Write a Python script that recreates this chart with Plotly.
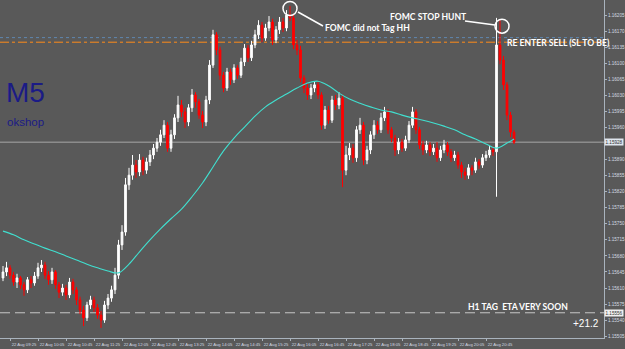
import plotly.graph_objects as go

# ---- data (EURUSD-like, M5 bars, 22 Aug 09:15 .. 21:25) ----
opens = [1.15632, 1.15645, 1.15654, 1.15638, 1.15623, 1.15632, 1.15617, 1.15606, 1.15628, 1.15621,
         1.15636, 1.15654, 1.15660, 1.15638, 1.15628, 1.15645, 1.15617, 1.15601, 1.15610, 1.15595,
         1.15623, 1.15606, 1.15584, 1.15562, 1.15545, 1.15573, 1.15584, 1.15567, 1.15551, 1.15540,
         1.15573, 1.15588, 1.15606, 1.15638, 1.15704, 1.15732, 1.15835, 1.15856, 1.15878, 1.15863,
         1.15889, 1.15867, 1.15885, 1.15900, 1.15915, 1.15928, 1.15944, 1.15965, 1.15915, 1.15944,
         1.15981, 1.16009, 1.15994, 1.15972, 1.16003, 1.16031, 1.16016, 1.15987, 1.15972, 1.16020,
         1.16096, 1.16162, 1.16129, 1.16074, 1.16046, 1.16081, 1.16064, 1.16090, 1.16074, 1.16103,
         1.16133, 1.16112, 1.16140, 1.16162, 1.16183, 1.16155, 1.16177, 1.16190, 1.16151, 1.16173,
         1.16190, 1.16177, 1.16205, 1.16199, 1.16140, 1.16129, 1.16068, 1.16046, 1.16031, 1.16046,
         1.16053, 1.16031, 1.15965, 1.15998, 1.15976, 1.16020, 1.16009, 1.16024, 1.15867, 1.15900,
         1.15915, 1.15894, 1.15955, 1.15965, 1.15889, 1.15911, 1.15944, 1.15965, 1.15955, 1.15981,
         1.15994, 1.15955, 1.15937, 1.15911, 1.15928, 1.15915, 1.15933, 1.15965, 1.15994, 1.15955,
         1.15922, 1.15911, 1.15922, 1.15907, 1.15915, 1.15894, 1.15911, 1.15922, 1.15907, 1.15894,
         1.15900, 1.15878, 1.15863, 1.15856, 1.15872, 1.15867, 1.15885, 1.15878, 1.15894, 1.15900,
         1.15911, 1.15907, 1.16140, 1.16107, 1.16053, 1.15987, 1.15950]

highs = [1.15658, 1.15667, 1.15660, 1.15645, 1.15641, 1.15636, 1.15623, 1.15634, 1.15636, 1.15645,
         1.15665, 1.15671, 1.15667, 1.15647, 1.15654, 1.15649, 1.15623, 1.15619, 1.15617, 1.15632,
         1.15630, 1.15612, 1.15591, 1.15571, 1.15580, 1.15593, 1.15591, 1.15575, 1.15560, 1.15582,
         1.15597, 1.15615, 1.15654, 1.15715, 1.15747, 1.15850, 1.15872, 1.15900, 1.15889, 1.15902,
         1.15896, 1.15894, 1.15911, 1.15924, 1.15937, 1.15955, 1.15976, 1.15972, 1.15955, 1.15989,
         1.16029, 1.16020, 1.16003, 1.16011, 1.16044, 1.16037, 1.16022, 1.15996, 1.16029, 1.16107,
         1.16173, 1.16168, 1.16136, 1.16081, 1.16090, 1.16088, 1.16098, 1.16096, 1.16112, 1.16142,
         1.16140, 1.16149, 1.16173, 1.16194, 1.16190, 1.16186, 1.16203, 1.16197, 1.16181, 1.16201,
         1.16199, 1.16216, 1.16225, 1.16207, 1.16151, 1.16138, 1.16074, 1.16055, 1.16055, 1.16061,
         1.16059, 1.16037, 1.16007, 1.16007, 1.16029, 1.16031, 1.16037, 1.16031, 1.15920, 1.15926,
         1.15924, 1.15963, 1.15981, 1.15972, 1.15920, 1.15952, 1.15976, 1.15974, 1.15992, 1.16005,
         1.16000, 1.15961, 1.15944, 1.15937, 1.15935, 1.15942, 1.15974, 1.16005, 1.16000, 1.15961,
         1.15931, 1.15931, 1.15928, 1.15924, 1.15928, 1.15920, 1.15933, 1.15928, 1.15913, 1.15909,
         1.15907, 1.15885, 1.15872, 1.15880, 1.15878, 1.15894, 1.15891, 1.15902, 1.15909, 1.15920,
         1.15918, 1.16199, 1.16194, 1.16116, 1.16059, 1.15994, 1.15955]

lows = [1.15625, 1.15636, 1.15630, 1.15615, 1.15610, 1.15608, 1.15593, 1.15599, 1.15610, 1.15615,
        1.15630, 1.15645, 1.15630, 1.15617, 1.15619, 1.15608, 1.15588, 1.15593, 1.15584, 1.15588,
        1.15597, 1.15573, 1.15553, 1.15527, 1.15538, 1.15564, 1.15558, 1.15543, 1.15523, 1.15534,
        1.15564, 1.15580, 1.15597, 1.15630, 1.15693, 1.15724, 1.15824, 1.15846, 1.15850, 1.15854,
        1.15856, 1.15859, 1.15876, 1.15891, 1.15907, 1.15920, 1.15937, 1.15907, 1.15907, 1.15935,
        1.15972, 1.15983, 1.15959, 1.15963, 1.15994, 1.16003, 1.15979, 1.15959, 1.15963, 1.16011,
        1.16090, 1.16118, 1.16064, 1.16037, 1.16040, 1.16053, 1.16057, 1.16066, 1.16068, 1.16094,
        1.16103, 1.16105, 1.16133, 1.16153, 1.16146, 1.16149, 1.16170, 1.16140, 1.16144, 1.16164,
        1.16168, 1.16170, 1.16192, 1.16131, 1.16118, 1.16059, 1.16035, 1.16020, 1.16022, 1.16037,
        1.16022, 1.15955, 1.15957, 1.15968, 1.15970, 1.15998, 1.16000, 1.15830, 1.15856, 1.15889,
        1.15883, 1.15885, 1.15946, 1.15878, 1.15880, 1.15902, 1.15935, 1.15946, 1.15948, 1.15974,
        1.15946, 1.15928, 1.15898, 1.15902, 1.15907, 1.15909, 1.15926, 1.15959, 1.15946, 1.15913,
        1.15900, 1.15904, 1.15898, 1.15900, 1.15885, 1.15887, 1.15904, 1.15898, 1.15885, 1.15887,
        1.15870, 1.15850, 1.15846, 1.15848, 1.15856, 1.15861, 1.15870, 1.15872, 1.15887, 1.15894,
        1.15898, 1.15809, 1.16098, 1.16042, 1.15976, 1.15939, 1.15924]

closes = [1.15645, 1.15654, 1.15638, 1.15623, 1.15632, 1.15617, 1.15606, 1.15628, 1.15621, 1.15636,
          1.15654, 1.15660, 1.15638, 1.15628, 1.15645, 1.15617, 1.15601, 1.15610, 1.15595, 1.15623,
          1.15606, 1.15584, 1.15562, 1.15545, 1.15573, 1.15584, 1.15567, 1.15551, 1.15540, 1.15573,
          1.15588, 1.15606, 1.15638, 1.15704, 1.15732, 1.15835, 1.15856, 1.15878, 1.15863, 1.15889,
          1.15867, 1.15885, 1.15900, 1.15915, 1.15928, 1.15944, 1.15965, 1.15915, 1.15944, 1.15981,
          1.16009, 1.15994, 1.15972, 1.16003, 1.16031, 1.16016, 1.15987, 1.15972, 1.16020, 1.16096,
          1.16162, 1.16129, 1.16074, 1.16046, 1.16081, 1.16064, 1.16090, 1.16074, 1.16103, 1.16133,
          1.16112, 1.16140, 1.16162, 1.16183, 1.16155, 1.16177, 1.16190, 1.16151, 1.16173, 1.16190,
          1.16177, 1.16205, 1.16199, 1.16140, 1.16129, 1.16068, 1.16046, 1.16031, 1.16046, 1.16053,
          1.16031, 1.15965, 1.15998, 1.15976, 1.16020, 1.16009, 1.16024, 1.15867, 1.15900, 1.15915,
          1.15894, 1.15955, 1.15965, 1.15889, 1.15911, 1.15944, 1.15965, 1.15955, 1.15981, 1.15994,
          1.15955, 1.15937, 1.15911, 1.15928, 1.15915, 1.15933, 1.15965, 1.15994, 1.15955, 1.15922,
          1.15911, 1.15922, 1.15907, 1.15915, 1.15894, 1.15911, 1.15922, 1.15907, 1.15894, 1.15900,
          1.15878, 1.15863, 1.15856, 1.15872, 1.15867, 1.15885, 1.15878, 1.15894, 1.15900, 1.15911,
          1.15907, 1.16140, 1.16107, 1.16053, 1.15987, 1.15950, 1.15928]

# moving average (cyan line), read every 3rd bar
ma_bars = [0, 3, 6, 9, 12, 15, 18, 21, 24, 27, 30, 33, 36, 39, 42, 45, 48, 51, 54, 57,
           60, 63, 66, 69, 72, 75, 78, 81, 84, 87, 90, 93, 96, 99, 102, 105, 108, 111, 114, 117,
           120, 123, 126, 129, 132, 135, 138, 141, 144, 146]
ma_values = [1.15734, 1.15726, 1.15715, 1.15706, 1.15697, 1.15689, 1.15680, 1.15671, 1.15662, 1.15654,
             1.15647, 1.15643, 1.15662, 1.15689, 1.15715, 1.15739, 1.15761, 1.15782, 1.15809, 1.15839,
             1.15874, 1.15909, 1.15937, 1.15961, 1.15985, 1.16005, 1.16020, 1.16033, 1.16046, 1.16057,
             1.16061, 1.16051, 1.16035, 1.16022, 1.16013, 1.16005, 1.15998, 1.15994, 1.15987, 1.15981,
             1.15976, 1.15970, 1.15963, 1.15955, 1.15944, 1.15935, 1.15924, 1.15915, 1.15926, 1.15935]

# time axis labels (every 8 bars)
time_tick_bars = [2, 10, 18, 26, 34, 42, 50, 58, 66, 74, 82, 90, 98, 106, 114, 122, 130, 138]
time_tick_labels = ["22 Aug 09:25", "22 Aug 10:05", "22 Aug 10:45", "22 Aug 11:25", "22 Aug 12:05",
                    "22 Aug 12:45", "22 Aug 13:25", "22 Aug 14:05", "22 Aug 14:45", "22 Aug 15:25",
                    "22 Aug 16:05", "22 Aug 16:45", "22 Aug 17:25", "22 Aug 18:05", "22 Aug 18:45",
                    "22 Aug 19:25", "22 Aug 20:05", "22 Aug 20:45"]

price_ticks = [1.16205, 1.16170, 1.16135, 1.16100, 1.16065, 1.16030, 1.15995, 1.15960, 1.15925,
               1.15890, 1.15855, 1.15820, 1.15785, 1.15750, 1.15715, 1.15680, 1.15645, 1.15610,
               1.15575, 1.15540, 1.15505]

orange_level = 1.16146   # dash-dot level
blue_level = 1.16156     # dotted level
h1_level = 1.15556       # H1 target
fomc_high_bar = 82
stop_hunt_bar = 142

# ---- geometry helpers for annotations (plot area 604 x 338 px) ----
PW, PH = 604.0, 338.0
def px(x):
    return x / PW
def py(y):
    return 1 - y / PH

BG = "#595959"
AXC = "#a9b3bd"
TXT = "#d4dbe3"
NAVY = "#1b1b86"

bars = list(range(len(closes)))

# tick labels hidden behind the highlighted price boxes are not shown
boxed = [closes[-1], h1_level]
shown_ticks = [v for v in price_ticks if all(abs(v - b) > 0.00010 for b in boxed)]

fig = go.Figure()
fig.add_trace(go.Candlestick(
    x=bars, open=opens, high=highs, low=lows, close=closes,
    increasing=dict(line=dict(color="#ffffff", width=1), fillcolor="#ffffff"),
    decreasing=dict(line=dict(color="#ff0000", width=1), fillcolor="#ff0000"),
    whiskerwidth=0, showlegend=False, hoverinfo="skip"))
fig.add_trace(go.Scatter(
    x=ma_bars, y=ma_values, mode="lines",
    line=dict(color="#40e0d0", width=1.1, shape="spline"),
    showlegend=False, hoverinfo="skip"))

shapes = []
shapes.append(dict(type="line", xref="paper", x0=0, x1=1, yref="y", y0=blue_level, y1=blue_level,
                   line=dict(color="#5f86b0", width=1, dash="dot"), layer="below"))
shapes.append(dict(type="line", xref="paper", x0=0, x1=1, yref="y", y0=orange_level, y1=orange_level,
                   line=dict(color="#ff8c1a", width=1, dash="dashdot"), layer="below"))
shapes.append(dict(type="line", xref="paper", x0=0, x1=1, yref="y", y0=h1_level, y1=h1_level,
                   line=dict(color="#c8c8c8", width=1, dash="10px,5px"), layer="below"))
shapes.append(dict(type="line", xref="paper", x0=0, x1=1, yref="y", y0=closes[-1], y1=closes[-1],
                   line=dict(color="#a8a8a8", width=1), layer="below"))
# circles
shapes.append(dict(type="circle", xref="x", yref="y", xsizemode="pixel", ysizemode="pixel",
                   xanchor=fomc_high_bar, yanchor=highs[fomc_high_bar],
                   x0=-7, x1=7, y0=-9.5, y1=4.5, line=dict(color="#ffffff", width=1.5)))
shapes.append(dict(type="circle", xref="x", yref="y", xsizemode="pixel", ysizemode="pixel",
                   xanchor=stop_hunt_bar, yanchor=highs[stop_hunt_bar],
                   x0=-5, x1=9, y0=-13, y1=1, line=dict(color="#ffffff", width=1.5)))
# connector lines
shapes.append(dict(type="line", xref="paper", yref="paper", x0=px(298), y0=py(12), x1=px(323), y1=py(26),
                   line=dict(color="#ffffff", width=1.5)))
shapes.append(dict(type="line", xref="paper", yref="paper", x0=px(465), y0=py(21), x1=px(495), y1=py(25),
                   line=dict(color="#ffffff", width=1.5)))

BOLD = "Lato, 'Liberation Sans', Arial, sans-serif"
ann = []
def text(x, y, s, size, color="#ffffff", family=BOLD):
    ann.append(dict(xref="paper", yref="paper", x=px(x), y=py(y), text=s, showarrow=False,
                    xanchor="left", yanchor="middle", font=dict(size=size, color=color, family=family),
                    borderpad=0))

text(5, 93, "M5", 28, NAVY, "Liberation Sans, Arial")
text(6, 122, "okshop", 11.5, NAVY, "Liberation Sans, Arial")
text(324, 27.5, "<b>FOMC did not Tag HH</b>", 8.6)
text(389, 17.5, "<b>FOMC STOP HUNT</b>", 8.6)
text(506, 43, "<b>RE ENTER SELL (SL TO BE)</b>", 8.6)
text(467, 307, "<b>H1 TAG\u00a0 ETA VERY SOON</b>", 8.6)
text(572, 323, "+21.2", 10, "#ffffff", "Liberation Sans, Arial")

# highlighted price boxes on the axis
for lvl, bg in [(closes[-1], "#dfe6ee"), (h1_level, "#f0f0f0")]:
    ann.append(dict(xref="paper", yref="y", x=1.0, y=lvl, text=f"{lvl:.5f}", showarrow=False,
                    xanchor="left", yanchor="middle", bgcolor=bg, borderpad=0.5,
                    font=dict(size=4.6, color="#303030", family="Liberation Sans, Arial")))

fig.update_layout(
    width=625, height=349,
    margin=dict(l=0, r=21, t=0, b=11),
    paper_bgcolor=BG, plot_bgcolor=BG,
    shapes=shapes, annotations=ann,
    xaxis=dict(range=[-0.857, 171.71], rangeslider=dict(visible=False),
               tickvals=time_tick_bars, ticktext=time_tick_labels,
               tickfont=dict(size=4.2, color=TXT, family="Liberation Sans, Arial"),
               ticks="outside", ticklen=2, tickcolor=AXC, ticklabelshift=14,
               showline=True, linecolor=AXC, linewidth=1,
               showgrid=False, zeroline=False, fixedrange=True),
    yaxis=dict(range=[1.15501, 1.16238], side="right",
               tickvals=shown_ticks, ticktext=[f"{v:.5f}" for v in shown_ticks],
               tickfont=dict(size=4.6, color=TXT, family="Liberation Sans, Arial"),
               ticks="outside", ticklen=2, tickcolor=AXC,
               showline=True, linecolor=AXC, linewidth=1,
               showgrid=False, zeroline=False, fixedrange=True),
)

fig.write_html("out.html")
